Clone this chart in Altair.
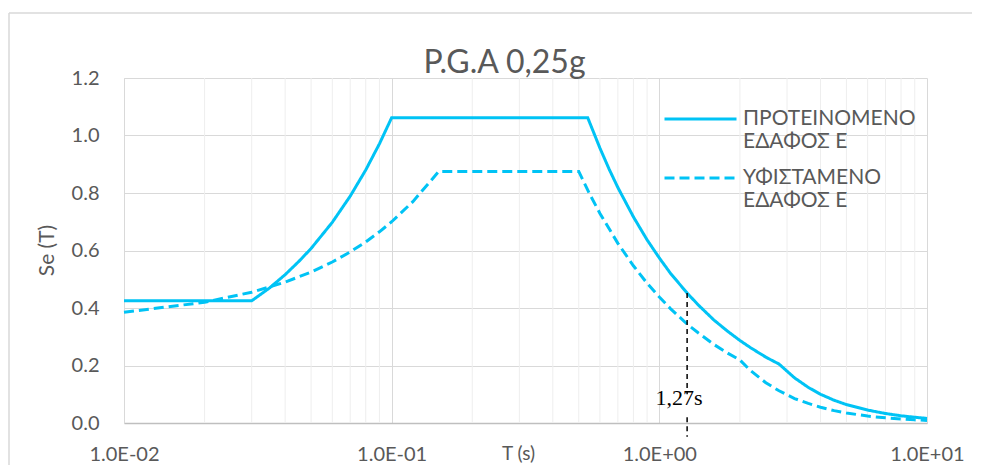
import altair as alt
import pandas as pd

# ---- data ----
series_names = ["ΠΡΟΤΕΙΝΟΜΕΝΟ ΕΔΑΦΟΣ Ε", "ΥΦΙΣΤΑΜΕΝΟ ΕΔΑΦΟΣ Ε"]

solid_T = [0.01, 0.02, 0.03, 0.035, 0.04, 0.045, 0.05, 0.06, 0.07, 0.08, 0.09, 0.1,
           0.54, 0.6, 0.65, 0.7, 0.8, 0.9, 1.0, 1.1, 1.27, 1.4, 1.6, 1.8, 2.0, 2.2,
           2.5, 2.8, 3.2, 3.6, 4.0, 4.5, 5.0, 6.0, 7.0, 8.0, 9.0, 10.0]
solid_Se = [0.425, 0.425, 0.425, 0.470, 0.516, 0.562, 0.607, 0.698, 0.789, 0.880, 0.971, 1.062,
            1.062, 0.956, 0.882, 0.819, 0.717, 0.637, 0.574, 0.521, 0.452, 0.410, 0.358, 0.319, 0.287, 0.261,
            0.229, 0.205, 0.157, 0.124, 0.100, 0.079, 0.064, 0.045, 0.033, 0.025, 0.020, 0.016]

dashed_T = [0.01, 0.02, 0.03, 0.04, 0.05, 0.06, 0.07, 0.08, 0.09, 0.1, 0.12, 0.15,
            0.5, 0.55, 0.6, 0.7, 0.8, 0.9, 1.0, 1.1, 1.27, 1.4, 1.6, 1.8, 2.0, 2.2,
            2.5, 2.8, 3.2, 3.6, 4.0, 4.5, 5.0, 6.0, 7.0, 8.0, 9.0, 10.0]
dashed_Se = [0.385, 0.420, 0.455, 0.490, 0.525, 0.560, 0.595, 0.630, 0.665, 0.700, 0.770, 0.875,
             0.875, 0.795, 0.729, 0.625, 0.547, 0.486, 0.438, 0.398, 0.344, 0.313, 0.273, 0.243, 0.219, 0.181,
             0.140, 0.112, 0.085, 0.068, 0.055, 0.043, 0.035, 0.024, 0.018, 0.014, 0.011, 0.009]

x_tick_values = [0.01, 0.1, 1, 10]
x_tick_labels = ["1.0E-02", "1.0E-01", "1.0E+00", "1.0E+01"]
y_tick_values = [0.0, 0.2, 0.4, 0.6, 0.8, 1.0, 1.2]
minor_T = [0.02, 0.03, 0.04, 0.05, 0.06, 0.07, 0.08, 0.09,
           0.2, 0.3, 0.4, 0.5, 0.6, 0.7, 0.8, 0.9,
           2, 3, 4, 5, 6, 7, 8, 9]

ann_T = [1.27]
ann_label = ["1,27s"]
ann_top_Se = [0.452, 0.10]     # dashed marker above the label
ann_bot_Se = [0.02, -0.048]    # dashed marker below the label

# ---- styles ----
BLUE = "#00C3F5"
GREY_TXT = "#595959"
FONT = "Lato"

df = pd.DataFrame({
    "T": solid_T + dashed_T,
    "Se": solid_Se + dashed_Se,
    "series": [series_names[0]] * len(solid_T) + [series_names[1]] * len(dashed_T),
})
minor_df = pd.DataFrame({"T": minor_T})
ann_df = pd.DataFrame({"T": ann_T, "label": ann_label})
seg_df = pd.DataFrame({"T": ann_T * 2,
                       "y1": [ann_top_Se[0], ann_bot_Se[0]],
                       "y2": [ann_top_Se[1], ann_bot_Se[1]]})

label_expr = " : ".join(
    [f"datum.value < {v * 1.5} ? '{l}'" for v, l in zip(x_tick_values[:-1], x_tick_labels[:-1])]
) + f" : '{x_tick_labels[-1]}'"

xscale = alt.Scale(type="log", domain=[0.01, 10], nice=False)
yscale = alt.Scale(domain=[0, 1.2], nice=False, zero=False)

x_axis = alt.Axis(values=x_tick_values, labelExpr=label_expr, grid=True, gridColor="#d9d9d9",
                  ticks=False, domainColor="#bfbfbf", domainWidth=1.5, labelPadding=21,
                  labelFlush=False, labelFont=FONT, labelFontSize=20, labelColor=GREY_TXT,
                  title="T (s)", titleFont=FONT, titleFontSize=19, titleFontWeight="normal",
                  titleColor=GREY_TXT, titleX=394, titleY=30, titleBaseline="middle")
y_axis = alt.Axis(values=y_tick_values, format=".1f", grid=True, gridColor="#d9d9d9",
                  ticks=False, domainColor="#d9d9d9", labelPadding=25, labelFont=FONT,
                  labelFontSize=20, labelColor=GREY_TXT,
                  title="Se (T)", titleFont=FONT, titleFontSize=21, titleFontWeight="normal",
                  titleColor=GREY_TXT, titleAngle=270, titleX=-77, titleY=172,
                  titleBaseline="middle", titleAlign="center")

minor = alt.Chart(minor_df).mark_rule(color="#eeeeee", strokeWidth=1).encode(
    x=alt.X("T:Q", scale=xscale, axis=x_axis),
    y=alt.datum(0, scale=yscale),
    y2=alt.datum(1.2),
)

lines = alt.Chart(df).mark_line(strokeWidth=3, color=BLUE, strokeCap="butt").encode(
    x=alt.X("T:Q", scale=xscale, axis=x_axis),
    y=alt.Y("Se:Q", scale=yscale, axis=y_axis),
    strokeDash=alt.StrokeDash(
        "series:N",
        scale=alt.Scale(domain=series_names, range=[[1, 0], [10, 5]]),
        legend=alt.Legend(
            title=None, orient="none", legendX=539, legendY=18,
            symbolType="stroke", symbolSize=5184, symbolStrokeWidth=3,
            symbolStrokeColor=BLUE, labelFont=FONT, labelFontSize=21,
            labelColor=GREY_TXT, labelOffset=5, labelLimit=400,
            labelExpr="split(datum.label, ' ΕΔΑΦΟΣ')[0] == datum.label ? datum.label : [split(datum.label, ' ΕΔΑΦΟΣ')[0], 'ΕΔΑΦΟΣ' + split(datum.label, ' ΕΔΑΦΟΣ')[1]]",
            clipHeight=46, rowPadding=3,
        ),
    ),
    order=alt.Order("T:Q"),
)

segs = alt.Chart(seg_df).mark_rule(color="black", strokeWidth=1.5, strokeDash=[5, 4]).encode(
    x=alt.X("T:Q", scale=xscale),
    y=alt.Y("y1:Q", scale=yscale),
    y2="y2:Q",
)

ann_text = alt.Chart(ann_df).mark_text(font="Liberation Serif", fontSize=22, color="black",
                                       align="center", baseline="alphabetic", dx=-8).encode(
    x=alt.X("T:Q", scale=xscale),
    y=alt.datum(0.062, scale=yscale),
    text="label:N",
)

frame_left = alt.Chart(ann_df).mark_rule(color="#d9d9d9", strokeWidth=1.5).encode(
    x=alt.value(-115), y=alt.value(-65), y2=alt.value(400))
frame_top = alt.Chart(ann_df).mark_rule(color="#d9d9d9", strokeWidth=1.5).encode(
    x=alt.value(-115), x2=alt.value(860), y=alt.value(-65))

chart = alt.layer(minor, lines, segs, ann_text, frame_left, frame_top).properties(
    width=803, height=345,
    autosize=alt.AutoSizeParams(type="none"),
    padding={"left": 116, "top": 70, "right": 45, "bottom": 42},
    title=alt.TitleParams("P.G.A 0,25g", font=FONT, fontSize=32, fontWeight="normal",
                          color=GREY_TXT, anchor="middle", dx=-21, dy=96, offset=3,
                          baseline="alphabetic", frame="group"),
    background="white",
).configure_view(stroke=None)

chart.save("out.html", embed_options={"renderer": "svg", "actions": False})
